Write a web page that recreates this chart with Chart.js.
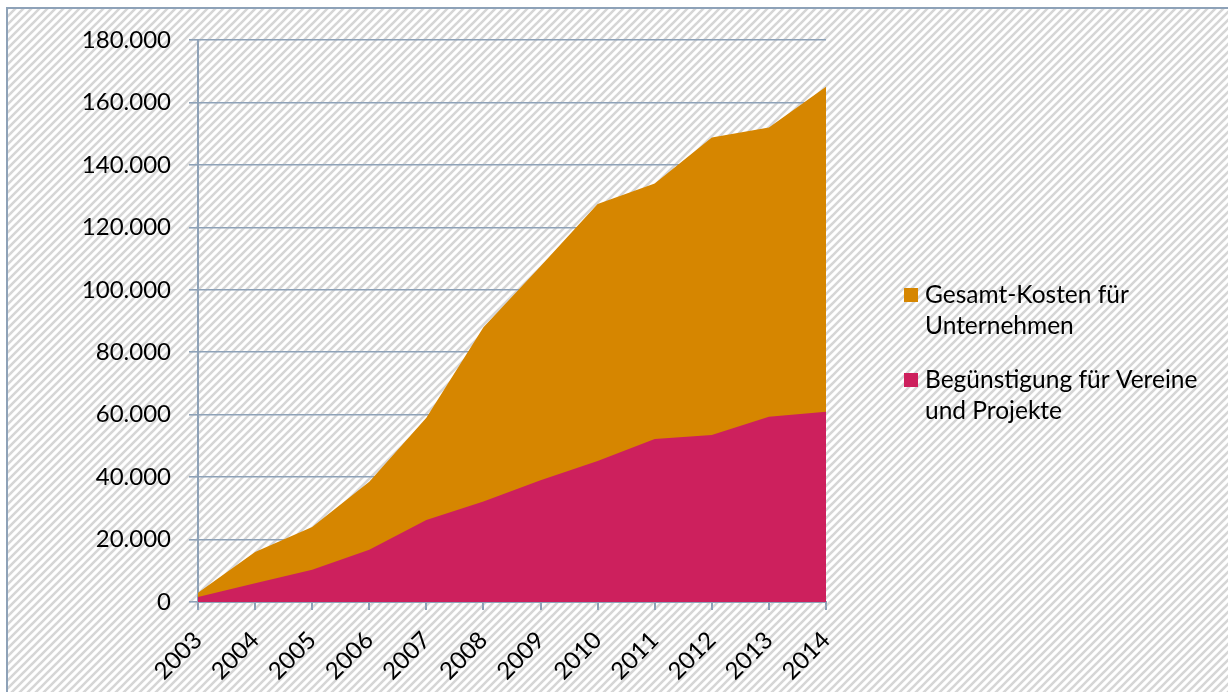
<!DOCTYPE html>
<html>
<head>
<meta charset="utf-8">
<script src="https://cdn.jsdelivr.net/npm/chart.js@4/dist/chart.umd.min.js"></script>
<style>
  html, body { margin: 0; padding: 0; background: #fff; }
  #wrap { width: 1228px; height: 692px; position: relative; }
</style>
</head>
<body>
<div id="wrap"><canvas id="chart"></canvas></div>
<script>
// Jahre
const years = ['2003', '2004', '2005', '2006', '2007', '2008', '2009', '2010', '2011', '2012', '2013', '2014'];
// Gesamt-Kosten für Unternehmen
const gesamtKosten = [3000, 16000, 24000, 38500, 59000, 88000, 107500, 127500, 134000, 148800, 152000, 165000];
// Begünstigung für Vereine und Projekte
const beguenstigung = [1600, 6000, 10300, 16700, 26300, 32200, 39000, 45200, 52200, 53500, 59300, 60900];
// Legendentexte (zweizeilig)
const legendLines = [
  ['Gesamt-Kosten für', 'Unternehmen'],
  ['Begünstigung für Vereine', 'und Projekte']
];
const seriesColors = ['#D68600', '#CD205D'];

const FONT = 'Lato, "Open Sans", sans-serif';
const AXIS_COLOR = '#8EA2B8';

// Schraffur für den Hintergrund
function makeHatch() {
  const p = document.createElement('canvas');
  p.width = 8; p.height = 8;
  const g = p.getContext('2d');
  g.fillStyle = '#ffffff';
  g.fillRect(0, 0, 8, 8);
  g.strokeStyle = '#d6d6d6';
  g.lineWidth = 2.6;
  g.beginPath();
  g.moveTo(-2, 10); g.lineTo(10, -2);
  g.moveTo(-6, 6); g.lineTo(6, -6);
  g.moveTo(2, 14); g.lineTo(14, 2);
  g.stroke();
  return p;
}

const backgroundPlugin = {
  id: 'hatchBackground',
  beforeDraw(chart) {
    const ctx = chart.ctx;
    const w = chart.width, h = chart.height;
    ctx.save();
    ctx.fillStyle = '#ffffff';
    ctx.fillRect(0, 0, w, h);
    ctx.fillStyle = ctx.createPattern(makeHatch(), 'repeat');
    ctx.fillRect(8, 9, w, h);
    ctx.strokeStyle = AXIS_COLOR;
    ctx.lineWidth = 2;
    ctx.strokeRect(7, 8, w + 10, h + 10);
    ctx.restore();
  }
};

const legendPlugin = {
  id: 'sideLegend',
  afterDraw(chart) {
    const ctx = chart.ctx;
    ctx.save();
    ctx.font = '24.5px ' + FONT;
    ctx.fillStyle = '#000';
    ctx.textBaseline = 'alphabetic';
    ctx.textAlign = 'left';
    const x0 = 904, tx = 925;
    const tops = [303, 388];
    const lineH = 31;
    legendLines.forEach((lines, i) => {
      ctx.fillStyle = chart.data.datasets[i].backgroundColor;
      ctx.fillRect(x0, tops[i] - 15, 14, 14);
      ctx.fillStyle = '#000';
      lines.forEach((t, j) => ctx.fillText(t, tx, tops[i] + j * lineH));
    });
    ctx.restore();
  }
};

const fmt = v => String(v).replace(/\B(?=(\d{3})+(?!\d))/g, '.');

new Chart(document.getElementById('chart'), {
  type: 'line',
  data: {
    labels: years,
    datasets: [
      {
        label: 'Gesamt-Kosten für Unternehmen',
        data: gesamtKosten,
        backgroundColor: seriesColors[0],
        borderColor: seriesColors[0],
        borderWidth: 0,
        pointRadius: 0,
        fill: 'origin',
        tension: 0,
        order: 1
      },
      {
        label: 'Begünstigung für Vereine und Projekte',
        data: beguenstigung,
        backgroundColor: seriesColors[1],
        borderColor: seriesColors[1],
        borderWidth: 0,
        pointRadius: 0,
        fill: 'origin',
        tension: 0,
        order: 0
      }
    ]
  },
  options: {
    responsive: true,
    maintainAspectRatio: false,
    animation: false,
    layout: { padding: { left: 0, right: 402, top: 40, bottom: 0 } },
    plugins: {
      legend: { display: false },
      tooltip: { enabled: false }
    },
    scales: {
      x: {
        offset: false,
        grid: { drawOnChartArea: false, drawTicks: true, tickLength: 8, color: AXIS_COLOR, lineWidth: 2 },
        border: { display: true, color: AXIS_COLOR, width: 2 },
        ticks: {
          minRotation: 45, maxRotation: 45, autoSkip: false,
          color: '#000', padding: 16,
          font: { family: FONT, size: 24 }
        },
        afterFit(s) { s.height = 90; }
      },
      y: {
        min: 0, max: 180000,
        grid: { color: AXIS_COLOR, lineWidth: 1.6, tickLength: 9, drawTicks: true },
        border: { display: true, color: AXIS_COLOR, width: 2 },
        ticks: {
          stepSize: 20000, color: '#000', padding: 18,
          font: { family: FONT, size: 24 },
          callback: v => fmt(v)
        },
        afterFit(s) { s.width = 198; }
      }
    }
  },
  plugins: [backgroundPlugin, legendPlugin]
});
</script>
</body>
</html>
